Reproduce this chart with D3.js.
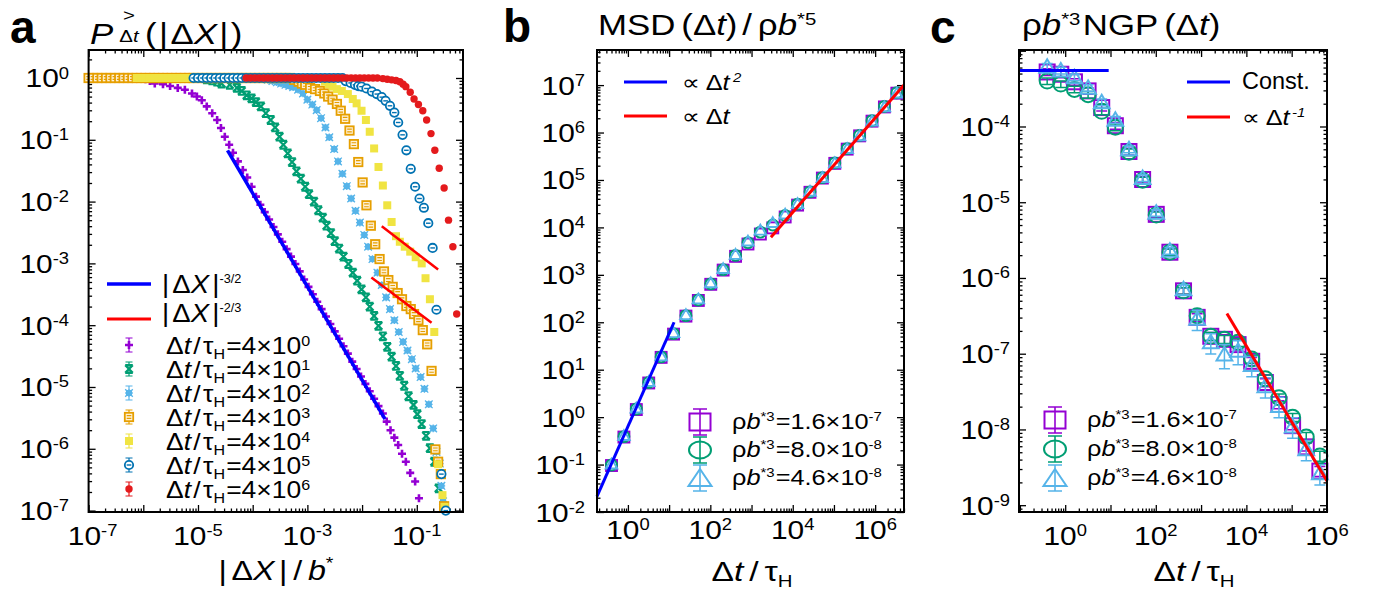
<!DOCTYPE html>
<html>
<head>
<meta charset="utf-8">
<script src="https://cdn.jsdelivr.net/npm/d3@7"></script>
<style>
  body { margin: 0; background: #fff; }
  text { font-family: "Liberation Sans", Arial, "DejaVu Sans", sans-serif; fill: #000; }
</style>
</head>
<body>
<script>
// ---------------- panel a : P(|dX|) for each lag, pairs are [log10 |dX|/b*, log10 P] ----------------
const ccdf4e0 = [
  [-7.00,0],[-6.92,0],[-6.84,0],[-6.76,0],[-6.68,0],[-6.60,0],[-6.52,0],[-6.44,0],[-6.36,0],[-6.28,0],[-6.20,0],[-6.12,0],[-6.04,0],
  [-5.96,-0.02],[-5.88,-0.05],[-5.79,-0.09],[-5.64,-0.10],[-5.51,-0.13],[-5.37,-0.16],[-5.24,-0.19],[-5.11,-0.25],[-5.02,-0.30],
  [-4.93,-0.36],[-4.84,-0.46],[-4.74,-0.57],[-4.65,-0.68],[-4.58,-0.81],[-4.51,-0.95],[-4.43,-1.08],[-4.36,-1.21],[-4.27,-1.35],
  [-4.18,-1.49],[-4.10,-1.61],[-4.02,-1.76],[-3.94,-1.92],[-3.86,-2.05],[-3.78,-2.17],[-3.70,-2.29],[-3.62,-2.41],[-3.54,-2.53],
  [-3.46,-2.65],[-3.38,-2.77],[-3.30,-2.89],[-3.22,-3.01],[-3.14,-3.13],[-3.06,-3.26],[-2.98,-3.38],[-2.90,-3.50],[-2.82,-3.62],
  [-2.74,-3.74],[-2.66,-3.86],[-2.58,-3.98],[-2.50,-4.10],[-2.42,-4.22],[-2.34,-4.34],[-2.26,-4.46],[-2.18,-4.59],[-2.10,-4.71],
  [-2.02,-4.83],[-1.94,-4.95],[-1.86,-5.07],[-1.78,-5.19],[-1.70,-5.31],[-1.62,-5.43],[-1.55,-5.56],[-1.48,-5.70],[-1.41,-5.82],
  [-1.34,-5.94],[-1.27,-6.08],[-1.20,-6.21],[-1.12,-6.39],[-1.03,-6.53],[-0.96,-6.80]
];
const ccdf4e1 = [
  [-7.00,0],[-6.92,0],[-6.84,0],[-6.76,0],[-6.68,0],[-6.60,0],[-6.52,0],[-6.44,0],[-6.36,0],[-6.28,0],[-6.20,0],[-6.12,0],[-6.04,0],
  [-5.96,0],[-5.88,0],[-5.80,0],[-5.72,0],[-5.64,0],[-5.56,0],[-5.48,0],[-5.40,0],[-5.32,0],[-5.24,0],[-5.16,0],[-5.08,0],[-5.00,0],[-4.92,0],
  [-4.84,-0.02],[-4.74,-0.04],[-4.65,-0.06],[-4.57,-0.09],[-4.42,-0.11],[-4.29,-0.16],[-4.20,-0.21],[-4.11,-0.28],[-4.02,-0.33],
  [-3.94,-0.39],[-3.85,-0.46],[-3.76,-0.57],[-3.67,-0.68],[-3.59,-0.80],[-3.51,-0.95],[-3.44,-1.08],[-3.36,-1.22],[-3.28,-1.36],
  [-3.20,-1.51],[-3.12,-1.63],[-3.04,-1.76],[-2.97,-1.88],[-2.88,-2.00],[-2.80,-2.14],[-2.72,-2.26],[-2.65,-2.39],[-2.57,-2.51],
  [-2.50,-2.64],[-2.42,-2.76],[-2.34,-2.89],[-2.25,-3.01],[-2.17,-3.15],[-2.09,-3.28],[-2.01,-3.42],[-1.93,-3.55],[-1.86,-3.70],
  [-1.78,-3.85],[-1.70,-4.01],[-1.62,-4.18],[-1.54,-4.35],[-1.46,-4.51],[-1.38,-4.66],[-1.31,-4.82],[-1.23,-4.98],[-1.15,-5.15],
  [-1.06,-5.29],[-0.99,-5.44],[-0.91,-5.60],[-0.83,-5.79],[-0.76,-5.99],[-0.68,-6.21],[-0.60,-6.64]
];
const ccdf4e2 = [
  [-7.00,0],[-6.92,0],[-6.84,0],[-6.76,0],[-6.68,0],[-6.60,0],[-6.52,0],[-6.44,0],[-6.36,0],[-6.28,0],[-6.20,0],[-6.12,0],[-6.04,0],
  [-5.96,0],[-5.88,0],[-5.80,0],[-5.72,0],[-5.64,0],[-5.56,0],[-5.48,0],[-5.40,0],[-5.32,0],[-5.24,0],[-5.16,0],[-5.08,0],[-5.00,0],[-4.92,0],
  [-4.84,0],[-4.76,0],[-4.68,0],[-4.60,0],[-4.52,0],[-4.44,0],[-4.36,0],[-4.28,0],[-4.20,0],[-4.12,0],[-4.04,0],[-3.96,0],[-3.88,0],[-3.80,0],
  [-3.72,-0.03],[-3.64,-0.05],[-3.56,-0.07],[-3.48,-0.09],[-3.40,-0.11],[-3.33,-0.13],[-3.26,-0.15],[-3.17,-0.19],[-3.08,-0.25],
  [-3.00,-0.35],[-2.91,-0.43],[-2.83,-0.52],[-2.75,-0.65],[-2.67,-0.80],[-2.60,-0.96],[-2.51,-1.15],[-2.44,-1.35],[-2.36,-1.55],
  [-2.28,-1.75],[-2.20,-1.95],[-2.12,-2.15],[-2.04,-2.34],[-1.96,-2.54],[-1.89,-2.73],[-1.81,-2.93],[-1.72,-3.15],[-1.64,-3.35],
  [-1.56,-3.55],[-1.49,-3.74],[-1.41,-3.92],[-1.33,-4.11],[-1.25,-4.27],[-1.17,-4.41],[-1.09,-4.55],[-1.02,-4.70],[-0.93,-4.84],
  [-0.86,-5.03],[-0.78,-5.28],[-0.70,-5.67],[-0.64,-6.05],[-0.58,-6.24],[-0.55,-6.60],[-0.52,-6.85]
];
const ccdf4e3 = [
  [-7.00,0],[-6.92,0],[-6.84,0],[-6.76,0],[-6.68,0],[-6.60,0],[-6.52,0],[-6.44,0],[-6.36,0],[-6.28,0],[-6.20,0],[-6.12,0],[-6.04,0],
  [-5.96,0],[-5.88,0],[-5.80,0],[-5.72,0],[-5.64,0],[-5.56,0],[-5.48,0],[-5.40,0],[-5.32,0],[-5.24,0],[-5.16,0],[-5.08,0],[-5.00,0],[-4.92,0],
  [-4.84,0],[-4.76,0],[-4.68,0],[-4.60,0],[-4.52,0],[-4.44,0],[-4.36,0],[-4.28,0],[-4.20,0],[-4.12,0],[-4.04,0],[-3.96,0],[-3.88,0],[-3.80,0],
  [-3.72,0],[-3.64,0],[-3.56,0],[-3.48,0],[-3.40,0],[-3.32,0],
  [-3.24,-0.03],[-3.16,-0.06],[-3.10,-0.09],[-3.04,-0.11],[-2.95,-0.16],[-2.86,-0.18],[-2.77,-0.21],[-2.69,-0.25],[-2.62,-0.30],
  [-2.54,-0.35],[-2.46,-0.42],[-2.39,-0.53],[-2.31,-0.66],[-2.23,-0.85],[-2.15,-1.07],[-2.07,-1.36],[-1.99,-1.69],[-1.92,-2.06],
  [-1.84,-2.39],[-1.76,-2.69],[-1.68,-2.93],[-1.60,-3.13],[-1.52,-3.27],[-1.44,-3.38],[-1.35,-3.48],[-1.27,-3.58],[-1.19,-3.69],
  [-1.11,-3.74],[-1.05,-3.82],[-0.97,-3.92],[-0.89,-4.08],[-0.81,-4.31],[-0.73,-4.74],[-0.66,-6.01],[-0.61,-6.21],[-0.56,-6.41],
  [-0.50,-6.93]
];
const ccdf4e4 = [
  [-6.12,0],[-6.04,0],[-5.96,0],[-5.88,0],[-5.80,0],[-5.72,0],[-5.64,0],[-5.56,0],[-5.48,0],[-5.40,0],[-5.32,0],[-5.24,0],[-5.16,0],
  [-5.08,0],[-5.00,0],[-4.92,0],[-4.84,0],[-4.76,0],[-4.68,0],[-4.60,0],[-4.52,0],[-4.44,0],[-4.36,0],[-4.28,0],[-4.20,0],[-4.12,0],
  [-4.04,0],[-3.96,0],[-3.88,0],[-3.80,0],[-3.72,0],[-3.64,0],[-3.56,0],[-3.48,0],[-3.40,0],[-3.32,0],[-3.24,0],[-3.16,0],[-3.08,0],
  [-3.00,0],[-2.92,0],[-2.84,0],[-2.76,0],
  [-2.68,-0.06],[-2.61,-0.10],[-2.54,-0.14],[-2.46,-0.18],[-2.37,-0.21],[-2.26,-0.26],[-2.17,-0.34],[-2.10,-0.41],[-2.01,-0.53],
  [-1.93,-0.68],[-1.86,-0.87],[-1.78,-1.14],[-1.70,-1.44],[-1.62,-1.74],[-1.54,-2.06],[-1.46,-2.33],[-1.38,-2.56],[-1.31,-2.65],
  [-1.22,-2.73],[-1.12,-2.81],[-1.02,-2.90],[-0.91,-3.00],[-0.84,-3.24],[-0.76,-3.58],[-0.68,-4.11],[-0.61,-6.25],[-0.53,-6.75],
  [-0.49,-6.94]
];
const ccdf4e5 = [
  [-5.08,0],[-5.00,0],[-4.92,0],[-4.84,0],[-4.76,0],[-4.68,0],[-4.60,0],[-4.52,0],[-4.44,0],[-4.36,0],[-4.28,0],[-4.20,0],[-4.12,0],
  [-4.04,0],[-3.96,0],[-3.88,0],[-3.80,0],[-3.72,0],[-3.64,0],[-3.56,0],[-3.48,0],[-3.40,0],[-3.32,0],[-3.24,0],[-3.16,0],[-3.08,0],
  [-3.00,0],[-2.92,0],[-2.84,0],[-2.76,0],[-2.68,0],[-2.60,0],[-2.52,0],[-2.44,0],[-2.36,0],
  [-2.30,-0.05],[-2.21,-0.08],[-2.13,-0.11],[-2.07,-0.13],[-2.01,-0.14],[-1.92,-0.17],[-1.82,-0.22],[-1.73,-0.26],[-1.64,-0.31],
  [-1.57,-0.37],[-1.49,-0.45],[-1.41,-0.56],[-1.34,-0.72],[-1.26,-0.92],[-1.19,-1.17],[-1.11,-1.47],[-1.03,-1.76],[-0.95,-1.95],
  [-0.87,-2.10],[-0.79,-2.35],[-0.71,-2.75],[-0.64,-3.75],[-0.55,-6.41],[-0.47,-7.00]
];
const ccdf4e6 = [
  [-4.12,0],[-4.04,0],[-3.96,0],[-3.88,0],[-3.80,0],[-3.72,0],[-3.64,0],[-3.56,0],[-3.48,0],[-3.40,0],[-3.32,0],[-3.24,0],[-3.16,0],
  [-3.08,0],[-3.00,0],[-2.92,0],[-2.84,0],[-2.76,0],[-2.68,0],[-2.60,0],[-2.52,0],[-2.44,0],[-2.36,0],[-2.28,0],[-2.20,0],[-2.12,0],
  [-2.04,0],[-1.96,0],[-1.88,0],[-1.80,0],[-1.72,0],
  [-1.62,-0.01],[-1.54,-0.02],[-1.46,-0.03],[-1.38,-0.04],[-1.31,-0.06],[-1.25,-0.10],[-1.20,-0.14],[-1.12,-0.23],[-1.05,-0.34],
  [-0.97,-0.43],[-0.89,-0.53],[-0.82,-0.68],[-0.74,-0.90],[-0.67,-1.17],[-0.59,-1.46],[-0.50,-1.78],[-0.42,-2.30],[-0.34,-2.73],
  [-0.27,-3.82]
];
const ccdfSeries = [ccdf4e0, ccdf4e1, ccdf4e2, ccdf4e3, ccdf4e4, ccdf4e5, ccdf4e6];
const lagExponents = ['0', '1', '2', '3', '4', '5', '6'];

// guide lines, end points as [log10 x, log10 y]
const fitA32 = [[-4.46, -1.17], [-1.58, -5.52]];
const fitA23hi = [[-1.64, -2.40], [-0.61, -3.10]];
const fitA23lo = [[-1.83, -3.23], [-0.73, -3.96]];

// ---------------- panels b and c ----------------
const lagTimes = [0.4, 0.8, 1.6, 3.2, 6.4, 12.8, 25.6, 51.2, 102.4, 204.8, 409.6, 819.2, 1638.4, 3276.8,
  6553.6, 13107.2, 26214.4, 52428.8, 104857.6, 209715.2, 419430.4, 838860.8, 1677721.6, 3355443.2];
// log10 MSD / rho b*5
const msd16 = [-1.02, -0.42, 0.16, 0.72, 1.26, 1.75, 2.13, 2.46, 2.80, 3.10, 3.39, 3.65, 3.86, 3.99, 4.22, 4.47, 4.74, 5.04, 5.35, 5.65, 5.93, 6.24, 6.54, 6.83];
const msd80 = [-1.01, -0.41, 0.17, 0.73, 1.27, 1.76, 2.14, 2.47, 2.81, 3.11, 3.41, 3.68, 3.90, 4.05, 4.25, 4.49, 4.75, 5.05, 5.36, 5.66, 5.94, 6.25, 6.55, 6.84];
const msd46 = [-0.99, -0.39, 0.19, 0.75, 1.29, 1.78, 2.16, 2.49, 2.83, 3.13, 3.43, 3.71, 3.94, 4.10, 4.28, 4.50, 4.76, 5.05, 5.36, 5.66, 5.93, 6.24, 6.54, 6.83];
// log10 rho b*3 NGP, first 21 lag times
const ngp16 = [-3.28, -3.31, -3.41, -3.53, -3.75, -3.99, -4.33, -4.70, -5.16, -5.66, -6.17, -6.52, -6.77, -6.81, -6.88, -7.10, -7.38, -7.67, -7.95, -8.23, -8.55];
const ngp80 = [-3.40, -3.44, -3.51, -3.58, -3.80, -4.01, -4.34, -4.71, -5.17, -5.66, -6.17, -6.50, -6.77, -6.81, -6.85, -7.07, -7.33, -7.58, -7.84, -8.10, -8.35];
const ngp46 = [-3.21, -3.26, -3.35, -3.49, -3.68, -3.91, -4.30, -4.68, -5.14, -5.64, -6.15, -6.54, -6.85, -7.01, -6.96, -7.15, -7.43, -7.69, -7.96, -8.26, -8.58];
// relative error of NGP
const ngpErr16 = [0.1, 0.1, 0.1, 0.1, 0.1, 0.1, 0.1, 0.1, 0.1, 0.1, 0.1, 0.12, 0.12, 0.15, 0.15, 0.12, 0.12, 0.12, 0.12, 0.12, 0.15];
const ngpErr80 = [0.1, 0.1, 0.1, 0.1, 0.1, 0.1, 0.1, 0.1, 0.1, 0.1, 0.1, 0.12, 0.12, 0.12, 0.12, 0.12, 0.12, 0.12, 0.12, 0.15, 0.15];
const ngpErr46 = [0.1, 0.1, 0.1, 0.1, 0.1, 0.1, 0.1, 0.1, 0.1, 0.1, 0.15, 0.3, 0.3, 0.35, 0.35, 0.3, 0.3, 0.3, 0.3, 0.3, 0.3];
const densityMant = ['1.6', '8.0', '4.6'];
const densityExp = ['-7', '-8', '-8'];

const fitB2 = [[-0.75, -1.67], [1.12, 2.00]];
const fitB1 = [[3.47, 3.79], [6.70, 7.00]];
const fitC0 = [[-1.02, -3.26], [0.96, -3.26]];
const fitC1 = [[3.57, -6.47], [5.78, -8.68]];

const aXTickExp = ['-7', '-5', '-3', '-1'];
const aYTickExp = ['0', '-1', '-2', '-3', '-4', '-5', '-6', '-7'];
const bXTickExp = ['0', '2', '4', '6'];
const bYTickExp = ['7', '6', '5', '4', '3', '2', '1', '0', '-1', '-2'];
const cXTickExp = ['0', '2', '4', '6'];
const cYTickExp = ['-4', '-5', '-6', '-7', '-8', '-9'];

const colA = ['#9400d3', '#009e73', '#56b4e9', '#e69f00', '#f0e442', '#0072b2', '#e41a1c'];
const shapeA = ['plus', 'hourglass', 'star', 'sqopen', 'sqfill', 'circopen', 'circfill'];
const sizeA = [4, 3.8, 3.8, 4.2, 4, 4.2, 3.7];
const colBC = ['#9400d3', '#009e73', '#56b4e9'];
const shapeBC = ['square', 'circle', 'triangle'];
const BLUE = '#0000ff', RED = '#ff0000';

const svg = d3.select('body').append('svg').attr('width', 1378).attr('height', 593);

// text with italic / super / subscript pieces, optional horizontal stretch
function rich(parent, x, y, parts, o) {
  o = o || {};
  const size = o.size || 25, sx = o.sx || 1;
  const t = parent.append('text')
    .attr('transform', 'translate(' + x + ',' + y + ') scale(' + sx + ',1)')
    .attr('text-anchor', o.anchor || 'start')
    .style('font-size', size + 'px')
    .style('font-weight', o.bold ? 'bold' : 'normal');
  let shift = 0;
  parts.forEach(p => {
    const s = p.sup ? -(o.supShift || size * 0.38) : (p.sub ? (o.subShift || size * 0.25) : 0);
    const ts = t.append('tspan').text(p.t).attr('dy', s - shift);
    shift = s;
    if (p.sup || p.sub) ts.style('font-size', (o.small || Math.round(size * 0.62)) + 'px');
    if (p.i) ts.style('font-style', 'italic');
    if (p.dx) ts.attr('dx', p.dx);
  });
  return t;
}

function logTicks(dom) {
  const lo = Math.log10(dom[0]), hi = Math.log10(dom[1]);
  const major = [], minor = [];
  for (let e = Math.floor(lo); e <= Math.ceil(hi); e++) {
    for (let m = 1; m < 10; m++) {
      const v = m * Math.pow(10, e), lv = Math.log10(v);
      if (lv < lo - 1e-9 || lv > hi + 1e-9) continue;
      (m === 1 ? major : minor).push(v);
    }
  }
  return { major, minor };
}

// inward ticks on all four sides
function drawTicks(xs, ys) {
  const [x0, x1] = xs.range(), [y0, y1] = ys.range();
  const g = svg.append('g');
  const tx = logTicks(xs.domain()), ty = logTicks(ys.domain());
  [[tx.major, 7], [tx.minor, 3.5]].forEach(([vals, len]) => {
    g.append('g').attr('transform', 'translate(0,' + y0 + ')')
      .call(d3.axisBottom(xs).tickValues(vals).tickSize(-len).tickFormat(''));
    g.append('g').attr('transform', 'translate(0,' + y1 + ')')
      .call(d3.axisTop(xs).tickValues(vals).tickSize(-len).tickFormat(''));
  });
  [[ty.major, 7], [ty.minor, 3.5]].forEach(([vals, len]) => {
    g.append('g').attr('transform', 'translate(' + x0 + ',0)')
      .call(d3.axisLeft(ys).tickValues(vals).tickSize(-len).tickFormat(''));
    g.append('g').attr('transform', 'translate(' + x1 + ',0)')
      .call(d3.axisRight(ys).tickValues(vals).tickSize(-len).tickFormat(''));
  });
  g.selectAll('.domain').remove();
  g.selectAll('.tick line').attr('stroke', '#000').attr('stroke-width', 1.3);
}

function drawBox(xs, ys) {
  const [x0, x1] = xs.range(), [y0, y1] = ys.range();
  svg.append('rect').attr('x', x0).attr('y', y1).attr('width', x1 - x0).attr('height', y0 - y1)
    .attr('fill', 'none').attr('stroke', '#000').attr('stroke-width', 2);
}

// tick labels; the outermost label is kept inside the panel as in the original
function tickLabels(xs, ys, xExp, yExp, xBase, yRight, firstNudge) {
  xExp.forEach((e, i) => {
    let px = xs(Math.pow(10, +e));
    if (px > xs.range()[1]) px = xs.range()[1];
    if (i === 0 && firstNudge) px += firstNudge;
    rich(svg, px, xBase, [{ t: '10' }, { t: e, sup: 1 }], { size: 26, anchor: 'middle', sx: 1.15, small: 16, supShift: 9 });
  });
  yExp.forEach(e => {
    rich(svg, yRight, ys(Math.pow(10, +e)) + 9.5, [{ t: '10' }, { t: e, sup: 1 }], { size: 26, anchor: 'end', sx: 1.15, small: 16, supShift: 9 });
  });
}

function mark(g, kind, c, x, y, s, sw) {
  switch (kind) {
    case 'plus':
      g.append('path').attr('d', `M${x - s},${y}H${x + s}M${x},${y - s}V${y + s}`)
        .attr('stroke', c).attr('stroke-width', 2.6).attr('fill', 'none');
      break;
    case 'hourglass':
      g.append('path').attr('d', `M${x - s},${y - s}L${x + s},${y + s}M${x + s},${y - s}L${x - s},${y + s}M${x - s},${y - s}H${x + s}M${x - s},${y + s}H${x + s}`)
        .attr('stroke', c).attr('stroke-width', 2.2).attr('fill', 'none');
      break;
    case 'star':
      g.append('rect').attr('x', x - s * 0.8).attr('y', y - s * 0.8).attr('width', s * 1.6).attr('height', s * 1.6).attr('fill', c);
      g.append('path').attr('d', `M${x - s},${y}H${x + s}M${x},${y - s}V${y + s}M${x - s},${y - s}L${x + s},${y + s}M${x + s},${y - s}L${x - s},${y + s}`)
        .attr('stroke', c).attr('stroke-width', 1.3).attr('fill', 'none');
      break;
    case 'sqopen':
      g.append('rect').attr('x', x - s).attr('y', y - s).attr('width', 2 * s).attr('height', 2 * s)
        .attr('fill', '#fdf1d8').attr('stroke', c).attr('stroke-width', 1.8);
      g.append('path').attr('d', `M${x - s * 0.55},${y - 1.4}H${x + s * 0.55}M${x - s * 0.55},${y + 1.4}H${x + s * 0.55}`)
        .attr('stroke', c).attr('stroke-width', 1.1);
      break;
    case 'sqfill':
      g.append('rect').attr('x', x - s).attr('y', y - s).attr('width', 2 * s).attr('height', 2 * s).attr('fill', c);
      break;
    case 'circopen':
      g.append('circle').attr('cx', x).attr('cy', y).attr('r', s).attr('fill', '#fff').attr('stroke', c).attr('stroke-width', 1.8);
      g.append('path').attr('d', `M${x - s * 0.55},${y}H${x + s * 0.55}`).attr('stroke', c).attr('stroke-width', 1.4);
      break;
    case 'circfill':
      g.append('circle').attr('cx', x).attr('cy', y).attr('r', s).attr('fill', c);
      break;
    case 'square':
      g.append('rect').attr('x', x - s).attr('y', y - s).attr('width', 2 * s).attr('height', 2 * s)
        .attr('fill', 'none').attr('stroke', c).attr('stroke-width', sw || 2);
      break;
    case 'circle':
      g.append('circle').attr('cx', x).attr('cy', y).attr('r', s).attr('fill', 'none').attr('stroke', c).attr('stroke-width', sw || 2);
      break;
    case 'triangle':
      g.append('path').attr('d', `M${x},${y - s}L${x + s * 1.05},${y + s * 0.8}L${x - s * 1.05},${y + s * 0.8}Z`)
        .attr('fill', 'none').attr('stroke', c).attr('stroke-width', sw || 2);
      break;
  }
}

function errBar(g, c, x, yLo, yHi, cap, sw) {
  g.append('path').attr('d', `M${x},${yLo}V${yHi}M${x - cap / 2},${yLo}H${x + cap / 2}M${x - cap / 2},${yHi}H${x + cap / 2}`)
    .attr('stroke', c).attr('stroke-width', sw || 1.4).attr('fill', 'none');
}

function fitLine(xs, ys, pts, c, w) {
  const line = d3.line().x(d => xs(Math.pow(10, d[0]))).y(d => ys(Math.pow(10, d[1])));
  svg.append('path').attr('d', line(pts)).attr('stroke', c).attr('stroke-width', w).attr('fill', 'none');
}

// ================= panel a =================
const xA = d3.scaleLog().domain([1e-7, Math.pow(10, -0.155)]).range([88.6, 463]);
const yA = d3.scaleLog().domain([Math.pow(10, -7.023), Math.pow(10, 0.453)]).range([512, 50]);
drawTicks(xA, yA);
ccdfSeries.forEach((pts, k) => {
  const g = svg.append('g');
  pts.filter(p => p[1] >= -7.05).forEach(p => {
    mark(g, shapeA[k], colA[k], xA(Math.pow(10, p[0])), yA(Math.pow(10, p[1])), sizeA[k]);
  });
});
fitLine(xA, yA, fitA32, BLUE, 3.5);
fitLine(xA, yA, fitA23hi, RED, 2.5);
fitLine(xA, yA, fitA23lo, RED, 2.5);
drawBox(xA, yA);
tickLabels(xA, yA, aXTickExp, aYTickExp, 545, 69, 4);

// legend a
svg.append('line').attr('x1', 107).attr('x2', 151).attr('y1', 284).attr('y2', 284).attr('stroke', BLUE).attr('stroke-width', 3.5);
svg.append('line').attr('x1', 107).attr('x2', 151).attr('y1', 319).attr('y2', 319).attr('stroke', RED).attr('stroke-width', 3);
rich(svg, 162, 293, [{ t: '|' }, { t: 'Δ', dx: 3 }, { t: 'X', i: 1 }, { t: '|', dx: 3 }, { t: '-3/2', sup: 1 }], { size: 26, sx: 1.06, small: 12, supShift: 10 });
rich(svg, 162, 322, [{ t: '|' }, { t: 'Δ', dx: 3 }, { t: 'X', i: 1 }, { t: '|', dx: 3 }, { t: '-2/3', sup: 1 }], { size: 26, sx: 1.06, small: 12, supShift: 10 });
lagExponents.forEach((e, k) => {
  const y = 345 + 24 * k, g = svg.append('g');
  errBar(g, colA[k], 129, y - 7, y + 7, 7, 1.2);
  mark(g, shapeA[k], colA[k], 129, y, sizeA[k]);
  rich(svg, 166, y + 9, [{ t: 'Δ' }, { t: 't', i: 1 }, { t: '/', dx: 2 }, { t: 'τ', dx: 2 }, { t: 'H', sub: 1 }, { t: '=4×10', dx: 1 }, { t: e, sup: 1 }],
    { size: 23, sx: 1.15, small: 14, supShift: 8, subShift: 5 });
});

rich(svg, 90, 44, [{ t: 'P', i: 1 }], { size: 29, sx: 1.2 });
rich(svg, 129, 21, [{ t: '>' }], { size: 17, anchor: 'middle', sx: 1.2 });
rich(svg, 129, 42, [{ t: 'Δ' }, { t: 't', i: 1 }], { size: 17, anchor: 'middle', sx: 1.2 });
rich(svg, 145, 44, [{ t: '(' }, { t: '|', dx: 2 }, { t: 'Δ', dx: 2 }, { t: 'X', i: 1 }, { t: '|', dx: 2 }, { t: ')', dx: 2 }], { size: 29, sx: 1.2 });
rich(svg, 276, 580, [{ t: '|' }, { t: 'Δ', dx: 4 }, { t: 'X', i: 1 }, { t: '|', dx: 4 }, { t: '/', dx: 5 }, { t: 'b', i: 1, dx: 5 }, { t: '*', sup: 1 }],
  { size: 28, anchor: 'middle', sx: 1.15, small: 17, supShift: 11 });
rich(svg, 10, 43, [{ t: 'a' }], { size: 46, bold: 1 });

// ================= panel b =================
const xB = d3.scaleLog().domain([Math.pow(10, -0.75), Math.pow(10, 6.7)]).range([597, 904]);
const yB = d3.scaleLog().domain([1e-2, Math.pow(10, 7.74)]).range([512, 50]);
drawTicks(xB, yB);
[msd16, msd80, msd46].forEach((vals, k) => {
  const g = svg.append('g');
  vals.forEach((v, i) => mark(g, shapeBC[k], colBC[k], xB(lagTimes[i]), yB(Math.pow(10, v)), 5.5, 1.9));
});
fitLine(xB, yB, fitB2, BLUE, 3);
fitLine(xB, yB, fitB1, RED, 3);
drawBox(xB, yB);
tickLabels(xB, yB, bXTickExp, bYTickExp, 539, 585, 0);

svg.append('line').attr('x1', 624).attr('x2', 667).attr('y1', 82).attr('y2', 82).attr('stroke', BLUE).attr('stroke-width', 3);
svg.append('line').attr('x1', 624).attr('x2', 667).attr('y1', 116).attr('y2', 116).attr('stroke', RED).attr('stroke-width', 3);
rich(svg, 682, 90, [{ t: '∝ Δ' }, { t: 't', i: 1 }, { t: '2', sup: 1, i: 1, dx: 3 }], { size: 22, sx: 1.15, small: 13, supShift: 8 });
rich(svg, 682, 124, [{ t: '∝ Δ' }, { t: 't', i: 1 }], { size: 22, sx: 1.15 });

function densityLegend(x, ys0, textX) {
  densityMant.forEach((m, k) => {
    const y = ys0[k], g = svg.append('g');
    errBar(g, colBC[k], x, y - 13, y + 13, 14, 1.6);
    if (k === 0) g.append('rect').attr('x', x - 10.5).attr('y', y - 8.5).attr('width', 21).attr('height', 17).attr('fill', 'none').attr('stroke', colBC[k]).attr('stroke-width', 2);
    if (k === 1) g.append('ellipse').attr('cx', x).attr('cy', y).attr('rx', 11).attr('ry', 8.5).attr('fill', 'none').attr('stroke', colBC[k]).attr('stroke-width', 2);
    if (k === 2) g.append('path').attr('d', `M${x},${y - 9}L${x + 11.5},${y + 8}L${x - 11.5},${y + 8}Z`).attr('fill', 'none').attr('stroke', colBC[k]).attr('stroke-width', 2);
    rich(svg, textX, y + 6.5, [{ t: 'ρ' }, { t: 'b', i: 1 }, { t: '*3', sup: 1 }, { t: '=' + m + '×10', dx: 1 }, { t: densityExp[k], sup: 1 }],
      { size: 22, sx: 1.15, small: 13, supShift: 8 });
  });
}
densityLegend(700, [422, 450, 478], 732);

rich(svg, 598, 35, [{ t: 'MSD' }, { t: '(', dx: 5 }, { t: 'Δ' }, { t: 't', i: 1 }, { t: ')' }, { t: '/', dx: 4 }, { t: 'ρ', dx: 5 }, { t: 'b', i: 1 }, { t: '*5', sup: 1 }],
  { size: 29, sx: 1.2, small: 17, supShift: 10 });
rich(svg, 752, 581, [{ t: 'Δ' }, { t: 't', i: 1 }, { t: '/', dx: 5 }, { t: 'τ', dx: 5 }, { t: 'H', sub: 1 }], { size: 28, anchor: 'middle', sx: 1.2, small: 17, subShift: 6 });
rich(svg, 503, 42, [{ t: 'b' }], { size: 46, bold: 1 });

// ================= panel c =================
const xC = d3.scaleLog().domain([Math.pow(10, -1.02), Math.pow(10, 5.78)]).range([1019, 1327]);
const yC = d3.scaleLog().domain([Math.pow(10, -9.09), Math.pow(10, -2.99)]).range([512, 50]);
drawTicks(xC, yC);
[[ngp16, ngpErr16], [ngp80, ngpErr80], [ngp46, ngpErr46]].forEach(([vals, errs], k) => {
  const g = svg.append('g');
  vals.forEach((v, i) => {
    const x = xC(lagTimes[i]), val = Math.pow(10, v);
    errBar(g, colBC[k], x, yC(val * (1 - errs[i])), yC(val * (1 + errs[i])), 11, 1.5);
    mark(g, shapeBC[k], colBC[k], x, yC(val), 7.5, 2);
  });
});
fitLine(xC, yC, fitC0, BLUE, 3);
fitLine(xC, yC, fitC1, RED, 3);
drawBox(xC, yC);
tickLabels(xC, yC, cXTickExp, cYTickExp, 545, 1010, 0);

svg.append('line').attr('x1', 1187).attr('x2', 1230).attr('y1', 82).attr('y2', 82).attr('stroke', BLUE).attr('stroke-width', 3);
svg.append('line').attr('x1', 1187).attr('x2', 1230).attr('y1', 117).attr('y2', 117).attr('stroke', RED).attr('stroke-width', 3);
rich(svg, 1242, 89, [{ t: 'Const.' }], { size: 23, sx: 1.02 });
rich(svg, 1242, 125, [{ t: '∝ Δ' }, { t: 't', i: 1 }, { t: '-1', sup: 1, i: 1, dx: 2 }], { size: 22, sx: 1.15, small: 13, supShift: 8 });
densityLegend(1055, [420, 449, 478], 1087);

rich(svg, 1022, 35, [{ t: 'ρ' }, { t: 'b', i: 1 }, { t: '*3', sup: 1 }, { t: 'NGP', dx: 2 }, { t: '(', dx: 5 }, { t: 'Δ' }, { t: 't', i: 1 }, { t: ')' }],
  { size: 29, sx: 1.2, small: 17, supShift: 10 });
rich(svg, 1194, 581, [{ t: 'Δ' }, { t: 't', i: 1 }, { t: '/', dx: 5 }, { t: 'τ', dx: 5 }, { t: 'H', sub: 1 }], { size: 28, anchor: 'middle', sx: 1.2, small: 17, subShift: 6 });
rich(svg, 930, 43, [{ t: 'c' }], { size: 46, bold: 1 });
</script>
</body>
</html>
